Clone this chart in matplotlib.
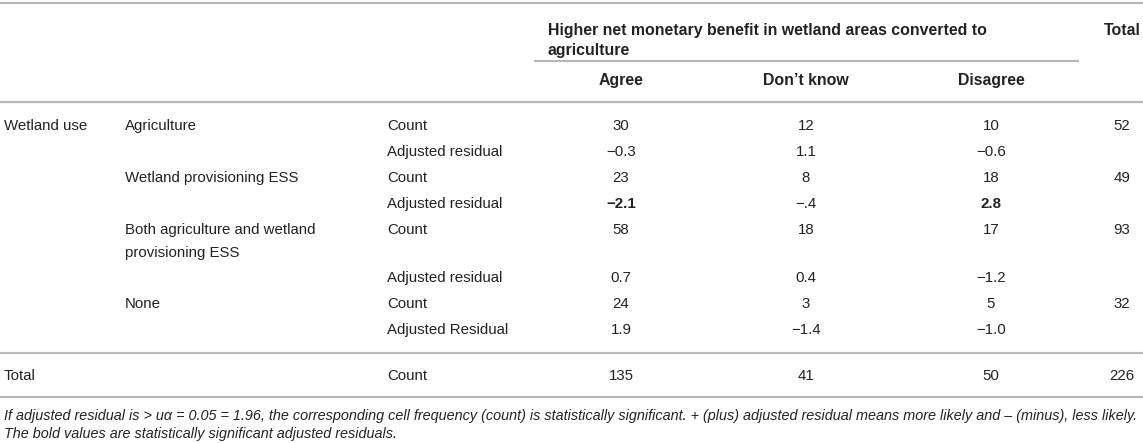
import matplotlib
matplotlib.use("Agg")
import matplotlib.pyplot as plt

plt.rcParams['font.family'] = ['Liberation Sans', 'DejaVu Sans']

# data of the table
wetland_uses = ["Agriculture", "Wetland provisioning ESS",
                "Both agriculture and wetland\nprovisioning ESS", "None"]
responses = ["Agree", "Don\u2019t know", "Disagree"]
counts = [[30, 12, 10],
          [23, 8, 18],
          [58, 18, 17],
          [24, 3, 5]]
residuals = [["\u22120.3", "1.1", "\u22120.6"],
             ["\u22122.1", "\u2212.4", "2.8"],
             ["0.7", "0.4", "\u22121.2"],
             ["1.9", "\u22121.4", "\u22121.0"]]
residual_labels = ["Adjusted residual", "Adjusted residual",
                   "Adjusted residual", "Adjusted Residual"]
row_totals = [52, 49, 93, 32]
col_totals = [135, 41, 50]
grand_total = 226
header = "Higher net monetary benefit in wetland areas converted to\nagriculture"
note1 = ("If adjusted residual is > u\u03b1 = 0.05 = 1.96, the corresponding cell frequency (count) "
         "is statistically significant. + (plus) adjusted residual means more likely and \u2013 (minus), less likely.")
note2 = "The bold values are statistically significant adjusted residuals."

W, H = 1143, 443
fig = plt.figure(figsize=(W / 100, H / 100), dpi=100)
ax = fig.add_axes([0, 0, 1, 1])
ax.set_xlim(0, W)
ax.set_ylim(H, 0)
ax.axis("off")

txt = "#222222"
rule = "#b8b8b8"
fs = 10.8
fs_head = 11.4
fs_note = 10.4
off = 5.2  # baseline offset from visual centre

def put(x, y, s, ha="left", bold=False, size=fs, style="normal"):
    ax.text(x, y + off, s, ha=ha, va="baseline", color=txt, fontsize=size,
            fontweight="bold" if bold else "normal", fontstyle=style)

# horizontal rules
for y in [3, 102, 353, 397]:
    ax.plot([0, W], [y, y], color=rule, lw=1.6, solid_capstyle="butt")
ax.plot([534, 1079], [61, 61], color=rule, lw=1.6, solid_capstyle="butt")

col_x = [621, 806, 991]
total_x = 1122

# header
for i, line in enumerate(header.split("\n")):
    put(548, 30 + i * 20, line, bold=True, size=fs_head)
put(total_x, 30, "Total", ha="center", bold=True, size=fs_head)
for x, r in zip(col_x, responses):
    put(x, 80, r, ha="center", bold=True, size=fs_head)

# body
put(4, 125, "Wetland use")
count_y = [125, 177, 229, 303]
resid_y = [151, 203, 277, 329]
for g, name in enumerate(wetland_uses):
    for i, line in enumerate(name.split("\n")):
        put(125, count_y[g] + i * 23, line)
    put(387, count_y[g], "Count")
    put(387, resid_y[g], residual_labels[g])
    for c, x in enumerate(col_x):
        put(x, count_y[g], str(counts[g][c]), ha="center")
        val = float(residuals[g][c].replace("\u2212", "-"))
        put(x, resid_y[g], residuals[g][c], ha="center", bold=abs(val) > 1.96)
    put(total_x, count_y[g], str(row_totals[g]), ha="center")

# total row
put(4, 375, "Total")
put(387, 375, "Count")
for x, v in zip(col_x, col_totals):
    put(x, 375, str(v), ha="center")
put(total_x, 375, str(grand_total), ha="center")

# footnote
put(4, 415, note1, size=fs_note, style="italic")
put(4, 433, note2, size=fs_note, style="italic")

fig.savefig("out.png", dpi=100)
